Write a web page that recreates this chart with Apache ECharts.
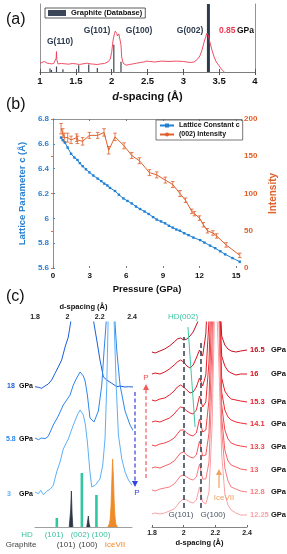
<!DOCTYPE html>
<html><head><meta charset="utf-8">
<script src="https://cdn.jsdelivr.net/npm/echarts@6/dist/echarts.min.js"></script>
<style>html,body{margin:0;padding:0;background:#fff}#c{width:287px;height:554px}</style>
</head><body><div id="c"></div>
<script>
const FF = '"Liberation Sans Narrow","Liberation Sans",Arial,sans-serif';

// ---------- (a) XRD pattern at 0.85 GPa ----------
const aD = [1.0,1.03,1.06,1.08,1.1,1.13,1.16,1.19,1.21,1.225,1.23,1.235,1.25,1.3,1.35,1.4,1.45,1.5,1.55,1.6,1.65,1.7,1.75,1.8,1.85,1.9,1.95,1.98,2.0,2.02,2.04,2.05,2.06,2.07,2.08,2.09,2.1,2.11,2.12,2.13,2.14,2.16,2.2,2.25,2.3,2.35,2.4,2.45,2.48,2.5,2.53,2.6,2.7,2.8,2.9,3.0,3.05,3.1,3.15,3.2,3.23,3.26,3.29,3.31,3.33,3.35,3.37,3.4,3.43,3.46,3.5,3.53,3.57];
const aI = [13,14,15.5,14.7,13,12.5,12,12.5,12,20,30,18,12,12.5,12,11.5,12.5,12,11,12,13,12,11.5,11,12,12.5,15,19,29,47,57,60,59.5,57,53,51,56,57,55,40,22,13,10,11,12,13,14,14.7,16,17.6,15.5,14.7,16,15.5,16,15.5,14.7,14,14.7,19,23.5,32,44,51,57,53,44,32,22,14.7,9,4.4,0];
const dbD = [1.14,1.16,1.23,1.32,1.54,1.68,1.80,2.03,2.13];
const dbH = [5,3,8,4,10,11,6,40,15];
const db002D = [3.35];
const db002H = [100];

// ---------- (b) lattice constant c and (002) intensity ----------
const pC = [0.66,0.8,0.98,1.2,1.48,1.75,2.0,2.2,2.43,2.7,2.98,3.3,3.66,3.95,4.2,4.45,4.67,5.08,5.4,5.77,6.1,6.45,6.8,7.13,7.5,7.84,8.2,8.5,8.85,9.18,9.5,9.81,10.1,10.4,10.75,11.1,11.5,12.05,12.4,12.87,13.28,13.7,14.1,14.7,15.3];
const cVal = [6.65,6.63,6.61,6.57,6.52,6.49,6.47,6.445,6.42,6.395,6.37,6.345,6.32,6.30,6.28,6.265,6.245,6.22,6.19,6.16,6.14,6.12,6.095,6.075,6.055,6.035,6.01,5.99,5.975,5.96,5.94,5.925,5.91,5.9,5.88,5.865,5.845,5.825,5.805,5.78,5.76,5.735,5.71,5.68,5.65];
const cErr = [0.008,0.006,0.006,0.006,0.005,0.005,0.005,0.005,0.005,0.005,0.005,0.005,0.005,0.005,0.005,0.005,0.005,0.005,0.005,0.005,0.005,0.005,0.005,0.005,0.005,0.005,0.005,0.005,0.005,0.005,0.005,0.005,0.005,0.005,0.005,0.005,0.005,0.005,0.005,0.005,0.005,0.005,0.005,0.006,0.008];
const pI = [0.66,0.8,0.93,1.2,1.48,1.94,2.0,2.43,2.98,3.66,4.18,4.56,5.08,5.82,6.45,7.08,7.9,8.5,9.2,9.81,10.4,10.85,11.37,11.58,12.0,12.32,12.65,13.1,13.4,14.18,15.3];
const iVal = [187,181,175,175,172,175,172,170,178,178,182,158,176,164,151,144,128,125,118,112,100,91,76,73,67,58,50,47,43,31,17];
const iErr = [7,6,6,6,5,5,5,5,4,4,5,5,5,4,4,4,4,4,4,4,4,3,3,3,3,3,3,3,3,3,3];

// ---------- (c) left: decompression patterns ----------
const pressuresL = ['18','5.8','3'];
const offsetsL = [140, 89, 35];
const d18 = [1.8,1.821,1.841,1.862,1.882,1.903,1.924,1.944,1.965,1.986,2.006,2.02,2.06,2.1,2.14,2.161,2.182,2.202,2.223,2.244,2.275,2.306,2.326,2.357,2.378,2.41];
const i18 = [0.3,-0.3,-1.3,1,3,7,13.7,20,27,40,50,64,110,130,100,67,47,27,10,7,3.7,0.3,1,0,0.3,0];
const d58 = [1.8,1.821,1.841,1.862,1.882,1.913,1.944,1.975,1.996,2.017,2.037,2.058,2.079,2.099,2.11,2.124,2.14,2.165,2.192,2.213,2.227,2.24,2.268,2.295,2.306,2.326,2.357,2.388,2.409];
const i58 = [0,-1.7,0,-0.7,1.7,13,22,33,38,43,53,60,66,62,57,43,20,16,27,53,87,115,240,115,87,53,27,13,7];
const d3 = [1.8,1.821,1.835,1.852,1.872,1.893,1.913,1.934,1.955,1.975,2.006,2.037,2.062,2.079,2.099,2.112,2.124,2.14,2.151,2.172,2.202,2.219,2.233,2.244,2.252,2.27,2.29,2.302,2.316,2.337,2.357,2.378,2.399];
const i3 = [0,-1.7,1.7,-2.7,0.7,2.7,6.7,20,30,43,53,67,77,82,77,67,50,20,5,6.7,13,27,53,107,168,300,168,107,57,33,20,12,7];
// reference sticks
const hdD = [1.935, 2.09, 2.18];
const hdH = [9, 54, 32];
const gr101D = [2.012,2.018,2.021,2.025,2.029,2.034];
const gr101H = [0,12,18,36,14,0];
const gr100D = [2.12,2.125,2.13,2.134,2.14];
const gr100H = [0,5,11,4,0];
const iceD = [2.25,2.26,2.265,2.27,2.275,2.28,2.285,2.29,2.295,2.3,2.31];
const iceH = [0,3,8,20,45,68,50,25,10,3,0];

// ---------- (c) right: compression patterns ----------
const pressuresR = ['16.5','16','15.3','14.1','13.3','13','12.8','12.25'];
const offsetsR = [175,153,127,105,82,59,37,13];
const dR = [1.8,1.82,1.85,1.88,1.91,1.94,1.96,1.98,2.0,2.02,2.04,2.06,2.08,2.1,2.12,2.14,2.16,2.18,2.2,2.22,2.24,2.26,2.28,2.3,2.33,2.36,2.4];
const iR = [
 [0,-1,1,3,6,10,13,14,12,13,16,20,27,34,45,70,120,220,320,90,16,7,3,1,0,1,2],
 [0,1,0,2,5,9,12,14,12,8,6,9,16,24,18,40,110,240,330,100,18,8,3,1,-1,0,0],
 [0,-1,1,2,5,9,13,15,13,10,7,8,13,22,14,25,80,200,330,120,22,9,4,1,0,-1,-2],
 [0,1,0,2,4,8,12,15,14,11,9,8,12,26,15,20,60,170,320,140,30,12,5,2,0,-1,-2],
 [0,-1,1,2,4,7,11,15,15,12,10,9,12,26,13,15,45,150,300,160,40,15,6,2,0,-1,-2],
 [0,1,0,2,4,7,11,15,16,13,11,10,13,27,12,13,35,130,290,180,50,18,7,3,1,-1,-2],
 [0,-1,1,2,3,6,10,14,15,13,11,10,13,26,11,11,28,110,270,190,60,22,9,3,1,-1,-2],
 [0,1,0,1,3,5,9,13,15,14,12,11,14,27,12,10,22,90,240,160,60,20,9,4,1,-1,-1]
];
const colorsR = ['#c40f1e','#d8141f','#e61e2a','#ee2c34','#f04448','#f25e62','#f57c80','#f8a2a6'];
const colorsL = ['#1c5fd8','#2d86ee','#5db0f7'];

// ---------- helpers ----------
const pairs = (xs, ys, off) => xs.map((x, i) => [x, ys[i] + (off || 0)]);
function stickRender(w) {
  return function (params, api) {
    const a = api.coord([api.value(0), 0]), b = api.coord([api.value(0), api.value(1)]);
    return {type: 'rect', shape: {x: a[0] - w / 2, y: b[1], width: w, height: a[1] - b[1]}, style: {fill: api.visual('color')}};
  };
}
function errRender(cap, color, lw) {
  return function (params, api) {
    const a = api.coord([api.value(0), api.value(1)]), b = api.coord([api.value(0), api.value(2)]);
    const st = {stroke: color, lineWidth: lw};
    return {type: 'group', children: [
      {type: 'line', shape: {x1: a[0], y1: a[1], x2: b[0], y2: b[1]}, style: st},
      {type: 'line', shape: {x1: a[0] - cap, y1: a[1], x2: a[0] + cap, y2: a[1]}, style: st},
      {type: 'line', shape: {x1: b[0] - cap, y1: b[1], x2: b[0] + cap, y2: b[1]}, style: st}
    ]};
  };
}
function T(text, x, y, o) {
  o = o || {};
  const al = o.align || 'left';
  return {type: 'text', x: x, y: y, silent: true, z: 100, style: {
    text: text, fill: o.fill || '#222', fontSize: o.size || 8, fontWeight: o.weight || 'bold',
    fontFamily: o.family || FF, fontStyle: o.style || 'normal',
    align: al, textAlign: al, verticalAlign: 'middle', textVerticalAlign: 'middle'}};
}
function dashArrow(x, y1, y2, color) {
  const dir = y2 > y1 ? 1 : -1;
  return [
    {type: 'line', silent: true, shape: {x1: x, y1: y1, x2: x, y2: y2 - dir * 2}, style: {stroke: color, lineWidth: 1.2, lineDash: [4, 2.5]}},
    {type: 'polygon', silent: true, shape: {points: [[x - 3, y2 - dir * 6], [x + 3, y2 - dir * 6], [x, y2]]}, style: {fill: color}}
  ];
}
const lblRound = v => String(+(+v).toFixed(1));

const chart = echarts.init(document.getElementById('c'), null, {renderer: 'canvas'});
const grayAx = {lineStyle: {color: '#777', width: 0.8}};
const axLabelB = {fontFamily: FF, fontWeight: 'bold'};

const series = [];
// (a)
series.push({name: 'Graphite (Database)', type: 'custom', xAxisIndex: 0, yAxisIndex: 0, clip: true, renderItem: stickRender(1.2), itemStyle: {color: '#3a4658'}, data: pairs(dbD, dbH), encode: {x: 0, y: 1}, z: 2});
series.push({name: 'Graphite (Database)', type: 'custom', xAxisIndex: 0, yAxisIndex: 0, clip: true, renderItem: stickRender(3), itemStyle: {color: '#2f3b4c'}, data: pairs(db002D, db002H), encode: {x: 0, y: 1}, z: 2});
series.push({name: '0.85 GPa', type: 'line', xAxisIndex: 0, yAxisIndex: 0, data: pairs(aD, aI), showSymbol: false, lineStyle: {color: '#ec3a52', width: 0.9}, itemStyle: {color: '#ec3a52'}, z: 3});
// (b)
series.push({name: 'Lattice Constant c', type: 'line', xAxisIndex: 2, yAxisIndex: 2, data: pairs(pC, cVal), symbol: 'rect', symbolSize: 2.2, lineStyle: {color: '#1f7fd4', width: 1}, itemStyle: {color: '#1f7fd4'}, z: 4});
series.push({type: 'custom', xAxisIndex: 2, yAxisIndex: 2, renderItem: errRender(1.5, '#8cc4ee', 0.8), data: pC.map((p, i) => [p, cVal[i] - cErr[i], cVal[i] + cErr[i]]), encode: {x: 0, y: [1, 2]}, z: 3});
series.push({name: '(002) Intensity', type: 'line', xAxisIndex: 2, yAxisIndex: 3, data: pairs(pI, iVal), showSymbol: false, symbol: 'none', lineStyle: {color: '#e0602a', width: 1}, itemStyle: {color: '#e0602a'}, z: 4});
series.push({type: 'custom', xAxisIndex: 2, yAxisIndex: 3, renderItem: errRender(1.8, '#e0602a', 0.8), data: pI.map((p, i) => [p, iVal[i] - iErr[i], iVal[i] + iErr[i]]), encode: {x: 0, y: [1, 2]}, z: 4});
// (c) left
[[d18, i18], [d58, i58], [d3, i3]].forEach((c, k) => {
  series.push({name: pressuresL[k] + ' GPa', type: 'line', xAxisIndex: 4, yAxisIndex: 4, data: pairs(c[0], c[1], offsetsL[k]), showSymbol: false, clip: true, lineStyle: {color: colorsL[k], width: 1}, z: 3});
});
series.push({name: 'HD', type: 'custom', xAxisIndex: 4, yAxisIndex: 4, clip: true, renderItem: stickRender(2.6), itemStyle: {color: '#2fc6a2'}, data: pairs(hdD, hdH), encode: {x: 0, y: 1}});
series.push({name: 'Graphite', type: 'line', xAxisIndex: 4, yAxisIndex: 4, data: pairs(gr101D, gr101H), showSymbol: false, lineStyle: {color: '#2b3647', width: 0.8}, areaStyle: {color: '#2b3647', opacity: 1}});
series.push({name: 'Graphite', type: 'line', xAxisIndex: 4, yAxisIndex: 4, data: pairs(gr100D, gr100H), showSymbol: false, lineStyle: {color: '#2b3647', width: 0.8}, areaStyle: {color: '#2b3647', opacity: 1}});
series.push({name: 'IceVII', type: 'line', xAxisIndex: 4, yAxisIndex: 4, data: pairs(iceD, iceH), showSymbol: false, lineStyle: {color: '#ef8a28', width: 0.8}, areaStyle: {color: '#ef8a28', opacity: 1}});
// (c) right
iR.forEach((prof, k) => {
  const s = {name: pressuresR[k] + ' GPa', type: 'line', xAxisIndex: 5, yAxisIndex: 5, data: pairs(dR, prof, offsetsR[k]), showSymbol: false, clip: true, lineStyle: {color: colorsR[k], width: 1}, z: 3,
    endLabel: {show: true, distance: 3, formatter: () => '{p|' + pressuresR[k] + '}{g|GPa}',
      rich: {p: {color: colorsR[k], fontWeight: 'bold', fontSize: 7.5, fontFamily: FF, width: 21}, g: {color: '#111', fontWeight: 'bold', fontSize: 7.5, fontFamily: FF}}}};
  if (k === 0) {
    s.markLine = {silent: true, symbol: 'none', label: {show: false}, animation: false, data: [
      [{coord: [2.0, 19], lineStyle: {color: '#3b475a', width: 1.6, type: [5, 3]}}, {coord: [2.0, 190]}],
      [{coord: [2.11, 19], lineStyle: {color: '#3b475a', width: 1.6, type: [5, 3]}}, {coord: [2.11, 185]}],
      [{coord: [2.027, 200], lineStyle: {color: '#3fc7a6', width: 1, type: 'solid'}}, {coord: [2.072, 100]}]
    ]};
  }
  series.push(s);
});

const option = {
  animation: false,
  backgroundColor: '#fff',
  textStyle: {fontFamily: FF},
  grid: [
    {left: 40, top: 4, width: 215, height: 68},
    {left: 53, top: 119, width: 188, height: 149},
    {left: 35, top: 322, width: 97, height: 205},
    {left: 152, top: 322, width: 95, height: 205}
  ],
  legend: [
    {data: [{name: 'Graphite (Database)', icon: 'rect'}], left: 45, top: 8, itemWidth: 18, itemHeight: 6, itemGap: 2, padding: [1, 3, 1, 3], borderColor: '#333', borderWidth: 0.8, textStyle: {fontSize: 7.5, fontWeight: 'bold', fontFamily: FF, color: '#111'}, selectedMode: false},
    {data: ['Lattice Constant c', '(002) Intensity'], orient: 'vertical', left: 156, top: 120, itemWidth: 14, itemHeight: 5, itemGap: 2, padding: [2, 3, 2, 3], borderColor: '#555', borderWidth: 0.8, textStyle: {fontSize: 7, fontWeight: 'bold', fontFamily: FF, color: '#111'}, selectedMode: false}
  ],
  xAxis: [
    {gridIndex: 0, type: 'value', min: 1, max: 4, interval: 0.5, axisLine: grayAx, axisTick: {inside: true, length: 3, lineStyle: {color: '#555'}}, splitLine: {show: false},
      axisLabel: Object.assign({fontSize: 9.5, color: '#111', margin: 4}, axLabelB),
      name: '{i|d}-spacing (Å)', nameLocation: 'middle', nameGap: 19,
      nameTextStyle: {fontSize: 11, fontWeight: 'bold', color: '#111', fontFamily: FF, rich: {i: {fontStyle: 'italic', fontWeight: 'bold', fontSize: 11, fontFamily: FF, color: '#111'}}}},
    {gridIndex: 0, type: 'value', position: 'top', min: 1, max: 4, interval: 0.5, axisLine: grayAx, axisTick: {inside: true, length: 3, lineStyle: {color: '#555'}}, axisLabel: {show: false}, splitLine: {show: false}},
    {gridIndex: 1, type: 'value', min: 0, max: 15.4, interval: 3, axisLine: {show: false}, axisTick: {inside: true, length: 2, lineStyle: {color: '#777'}}, splitLine: {show: false},
      axisLabel: Object.assign({fontSize: 8, color: '#111', margin: 4, formatter: v => (Math.abs(v % 3) < 1e-6 ? String(v) : ''), showMaxLabel: false}, axLabelB),
      name: 'Pressure (GPa)', nameLocation: 'middle', nameGap: 16, nameTextStyle: {fontSize: 9.5, fontWeight: 'bold', color: '#111', fontFamily: FF}},
    {gridIndex: 1, type: 'value', position: 'top', min: 0, max: 15.4, interval: 3, axisLine: grayAx, axisTick: {inside: true, length: 2, lineStyle: {color: '#777'}}, axisLabel: {show: false}, splitLine: {show: false}},
    {gridIndex: 2, type: 'value', position: 'top', min: 1.8, max: 2.4, interval: 0.2, axisLine: {show: false}, axisTick: {show: false}, splitLine: {show: false},
      axisLabel: Object.assign({fontSize: 7, color: '#222', margin: 1, formatter: lblRound}, axLabelB),
      name: 'd-spacing (Å)', nameLocation: 'middle', nameGap: 11, nameTextStyle: {fontSize: 7.5, fontWeight: 'bold', color: '#111', fontFamily: FF}},
    {gridIndex: 3, type: 'value', min: 1.8, max: 2.4, interval: 0.2, axisLine: {lineStyle: {color: '#666', width: 0.8}}, axisTick: {inside: true, length: 2, lineStyle: {color: '#666'}}, splitLine: {show: false},
      axisLabel: Object.assign({fontSize: 7, color: '#222', margin: 3, formatter: lblRound}, axLabelB),
      name: 'd-spacing (Å)', nameLocation: 'middle', nameGap: 12, nameTextStyle: {fontSize: 7.5, fontWeight: 'bold', color: '#111', fontFamily: FF}},
    {gridIndex: 2, type: 'value', position: 'bottom', min: 1.8, max: 2.4, axisLine: {lineStyle: {color: '#888', width: 0.8}}, axisTick: {show: false}, axisLabel: {show: false}, splitLine: {show: false}}
  ],
  yAxis: [
    {gridIndex: 0, type: 'value', min: 0, max: 100, axisLine: {show: true, lineStyle: {color: '#777', width: 0.8}}, axisTick: {show: false}, axisLabel: {show: false}, splitLine: {show: false}},
    {gridIndex: 0, type: 'value', position: 'right', min: 0, max: 100, axisLine: {show: true, lineStyle: {color: '#777', width: 0.8}}, axisTick: {show: false}, axisLabel: {show: false}, splitLine: {show: false}},
    {gridIndex: 1, type: 'value', min: 5.6, max: 6.8, interval: 0.2, axisLine: {show: true, lineStyle: {color: '#3a8fdc', width: 0.9}}, axisTick: {show: true, inside: true, length: 2, lineStyle: {color: '#3a8fdc'}}, splitLine: {show: false},
      axisLabel: Object.assign({fontSize: 8, color: '#2a7fd0', margin: 4, formatter: lblRound}, axLabelB),
      name: 'Lattice Parameter c (Å)', nameLocation: 'middle', nameGap: 17, nameTextStyle: {fontSize: 9.5, fontWeight: 'bold', color: '#2a7fd0', fontFamily: FF}},
    {gridIndex: 1, type: 'value', position: 'right', min: 0, max: 200, interval: 50, axisLine: {show: true, lineStyle: {color: '#e8703c', width: 0.9}}, axisTick: {show: true, inside: true, length: 2, lineStyle: {color: '#e8703c'}}, splitLine: {show: false},
      axisLabel: Object.assign({fontSize: 8, color: '#e0602a', margin: 3}, axLabelB),
      name: 'Intensity', nameLocation: 'middle', nameGap: 19, nameTextStyle: {fontSize: 10, fontWeight: 'bold', color: '#e0602a', fontFamily: FF}},
    {gridIndex: 2, type: 'value', min: 0, max: 205, show: false},
    {gridIndex: 3, type: 'value', min: 0, max: 205, show: false}
  ],
  series: series,
  graphic: [].concat(
    [
      T('(a)', 6, 20, {size: 16, weight: 'normal', fill: '#111', family: 'Liberation Sans, Arial'}),
      T('(b)', 6, 105, {size: 16, weight: 'normal', fill: '#111', family: 'Liberation Sans, Arial'}),
      T('(c)', 6, 297, {size: 16, weight: 'normal', fill: '#111', family: 'Liberation Sans, Arial'}),
      T('G(110)', 60, 42, {align: 'center', fill: '#2e3b4e', size: 8.5}),
      T('G(101)', 97, 31, {align: 'center', fill: '#2e3b4e', size: 8.5}),
      T('G(100)', 139, 31, {align: 'center', fill: '#2e3b4e', size: 8.5}),
      T('G(002)', 190, 31, {align: 'center', fill: '#2e3b4e', size: 8.5}),
      T('0.85', 219, 31, {fill: '#ec3a52', size: 8.5}),
      T('GPa', 237, 31, {fill: '#111', size: 8.5}),
      T('18', 7, 386, {fill: colorsL[0], size: 7}),
      T('GPa', 19, 386, {fill: '#111', size: 7}),
      T('5.8', 6, 439, {fill: colorsL[1], size: 7}),
      T('GPa', 19, 439, {fill: '#111', size: 7}),
      T('3', 7, 494, {fill: colorsL[2], size: 7}),
      T('GPa', 19, 494, {fill: '#111', size: 7}),
      T('P', 137, 493, {fill: '#3344dd', size: 8, weight: 'normal', align: 'center'}),
      T('HD', 27, 535, {fill: '#3cc3a0', size: 8, weight: 'normal', align: 'center'}),
      T('(101)', 54, 535, {fill: '#3cc3a0', size: 8, weight: 'normal', align: 'center'}),
      T('(002)', 80, 535, {fill: '#3cc3a0', size: 8, weight: 'normal', align: 'center'}),
      T('(100)', 101, 535, {fill: '#3cc3a0', size: 8, weight: 'normal', align: 'center'}),
      T('Graphite', 21, 545, {fill: '#444', size: 8, weight: 'normal', align: 'center'}),
      T('(101)', 66, 545, {fill: '#444', size: 8, weight: 'normal', align: 'center'}),
      T('(100)', 88, 545, {fill: '#444', size: 8, weight: 'normal', align: 'center'}),
      T('IceVII', 115, 545, {fill: '#ef8a28', size: 8, weight: 'normal', align: 'center'}),
      T('HD(002)', 183, 317, {fill: '#3cc3a0', size: 8, weight: 'normal', align: 'center'}),
      T('G(101)', 181, 515, {fill: '#4a5566', size: 8, weight: 'normal', align: 'center'}),
      T('G(100)', 213, 515, {fill: '#4a5566', size: 8, weight: 'normal', align: 'center'}),
      T('IceVII', 224, 498, {fill: '#f0a060', size: 8, weight: 'normal', align: 'center'}),
      T('P', 146, 378, {fill: '#f05050', size: 8, weight: 'normal', align: 'center'})
    ],
    dashArrow(135, 392, 487, '#3344dd'),
    dashArrow(146, 478, 384, '#f25a5a'),
    [{type: 'line', silent: true, shape: {x1: 219, y1: 488, x2: 219, y2: 474}, style: {stroke: '#f0a060', lineWidth: 1.2}},
     {type: 'polygon', silent: true, shape: {points: [[216, 475], [222, 475], [219, 469]]}, style: {fill: '#f0a060'}}]
  )
};
chart.setOption(option);
</script></body></html>
